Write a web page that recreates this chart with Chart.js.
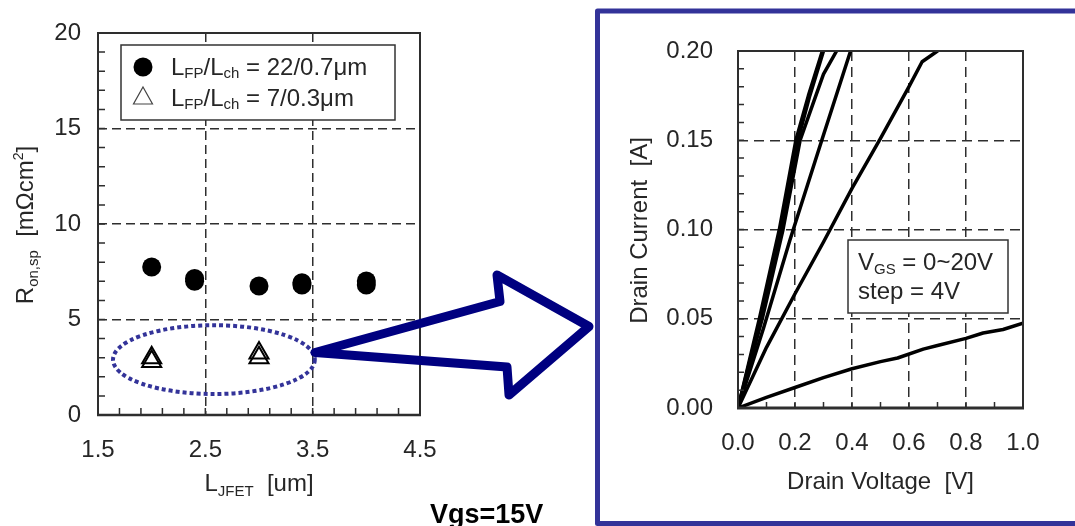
<!DOCTYPE html>
<html>
<head>
<meta charset="utf-8">
<title>Ron,sp vs L_JFET and Id-Vd</title>
<script src="https://cdn.jsdelivr.net/npm/chart.js@4.4.1/dist/chart.umd.min.js"></script>
<style>
  html, body { margin: 0; padding: 0; background: #fff; }
  #page { position: relative; width: 1075px; height: 526px; overflow: hidden; }
  #page canvas { position: absolute; left: 0; top: 0; }
</style>
</head>
<body>
<div id="page">
  <canvas id="ronChart" width="1075" height="526"></canvas>
  <canvas id="ivChart" width="1075" height="526"></canvas>
</div>
<script>
// Left panel: specific on-resistance vs JFET length
const ljfetTicks = [1.5, 2.5, 3.5, 4.5];
const ronTicks = [0, 5, 10, 15, 20];
const lfp22X = [2.0, 2.4, 2.4, 3.0, 3.4, 3.4, 4.0, 4.0];
const lfp22Ron = [7.75, 7.0, 7.15, 6.75, 6.8, 6.92, 6.8, 7.02];
const lfp7X = [2.0, 2.0, 3.0, 3.0];
const lfp7Ron = [2.8, 3.0, 3.0, 3.25];

// Right panel: drain current vs drain voltage (Vgs = 0~20V, step 4V)
const vdTicks = [0, 0.2, 0.4, 0.6, 0.8, 1.0];
const idTicks = [0, 0.05, 0.10, 0.15, 0.20];
const vd1 = [0, 0.1, 0.2, 0.3, 0.4, 0.5, 0.56, 0.65, 0.7, 0.8, 0.86, 0.93, 1.0];
const id1 = [0, 0.006, 0.0115, 0.017, 0.022, 0.026, 0.028, 0.033, 0.035, 0.039, 0.042, 0.044, 0.0475];
const vd2 = [0, 0.1, 0.2, 0.3, 0.4, 0.5, 0.6, 0.646, 0.70];
const id2 = [0, 0.034, 0.064, 0.093, 0.123, 0.151, 0.18, 0.194, 0.20];
const vd3 = [0, 0.09, 0.182, 0.294, 0.395];
const id3 = [0, 0.045, 0.094, 0.15, 0.20];
const vd4 = [0, 0.085, 0.158, 0.218, 0.262, 0.30, 0.346];
const id4 = [0, 0.05, 0.10, 0.15, 0.17, 0.187, 0.20];
const vd5 = [0, 0.079, 0.152, 0.21, 0.252, 0.30];
const id5 = [0, 0.05, 0.10, 0.15, 0.175, 0.20];
const vd6 = [0, 0.075, 0.145, 0.203, 0.247, 0.296];
const id6 = [0, 0.05, 0.10, 0.15, 0.175, 0.20];

const FONT = "'Liberation Sans', Arial, Helvetica, sans-serif";
const TXT = '#262626';
const LINE = '#2e2e2e';
const NAVY = '#000080';
const FRAME = '#333399';

Chart.defaults.font.family = FONT;

function range(a, b, step) {
    const out = [];
    for (let v = a; v <= b + 1e-9; v += step) out.push(Math.round(v * 1000) / 1000);
    return out;
}

function toPoints(xs, ys) {
    return xs.map((x, i) => ({ x: x, y: ys[i] }));
}

// rich text: parts = [[text, size, dy], ...]
function richWidth(ctx, parts) {
    let w = 0;
    parts.forEach(p => {
        ctx.font = p[1] + 'px ' + FONT;
        w += ctx.measureText(p[0]).width;
    });
    return w;
}

function drawRich(ctx, parts, x, y) {
    let cx = x;
    parts.forEach(p => {
        ctx.font = p[1] + 'px ' + FONT;
        ctx.fillText(p[0], cx, y + (p[2] || 0));
        cx += ctx.measureText(p[0]).width;
    });
}

function edgeTransparent(ctx) {
    const t = ctx.tick;
    if (!t) return LINE;
    const s = ctx.scale;
    if (Math.abs(t.value - s.min) < 1e-9 || Math.abs(t.value - s.max) < 1e-9) return 'rgba(0,0,0,0)';
    return LINE;
}

// box, inner minor ticks, axis titles and text legend of each panel
const panelDecor = {
    id: 'panelDecor',
    afterDraw(chart, args, o) {
        const { ctx, chartArea: a } = chart;
        const x = chart.scales.x, y = chart.scales.y;
        ctx.save();
        ctx.strokeStyle = LINE;
        ctx.lineWidth = 1.5;
        ctx.beginPath();
        o.minorY.forEach(v => {
            const py = y.getPixelForValue(v);
            ctx.moveTo(a.left, py);
            ctx.lineTo(a.left + o.tickLen, py);
        });
        o.minorX.forEach(v => {
            const px = x.getPixelForValue(v);
            ctx.moveTo(px, a.bottom);
            ctx.lineTo(px, a.bottom - o.tickLen);
        });
        ctx.stroke();

        ctx.lineWidth = 2;
        ctx.strokeRect(a.left, a.top, a.width, a.height);
        ctx.lineWidth = o.bottomWidth;
        ctx.beginPath();
        ctx.moveTo(a.left - 1, a.bottom);
        ctx.lineTo(a.right + 1, a.bottom);
        ctx.stroke();

        // axis titles
        ctx.fillStyle = TXT;
        ctx.textBaseline = 'alphabetic';
        const xw = richWidth(ctx, o.xTitle);
        drawRich(ctx, o.xTitle, (a.left + a.right) / 2 - xw / 2, o.xTitleY);
        const yw = richWidth(ctx, o.yTitle);
        ctx.save();
        ctx.translate(o.yTitleX, (a.top + a.bottom) / 2 + o.yTitleShift);
        ctx.rotate(-Math.PI / 2);
        drawRich(ctx, o.yTitle, -yw / 2, 0);
        ctx.restore();

        // legend box (white filled, covers the grid)
        const L = o.legend;
        ctx.fillStyle = '#fff';
        ctx.fillRect(L.box[0], L.box[1], L.box[2], L.box[3]);
        ctx.lineWidth = 1.5;
        ctx.strokeStyle = '#333';
        ctx.strokeRect(L.box[0], L.box[1], L.box[2], L.box[3]);
        ctx.fillStyle = TXT;
        L.rows.forEach(r => {
            drawRich(ctx, r.parts, r.x, r.y);
            if (r.marker === 'circle') {
                ctx.beginPath();
                ctx.fillStyle = '#000';
                ctx.arc(r.mx, r.my, 9.5, 0, Math.PI * 2);
                ctx.fill();
                ctx.fillStyle = TXT;
            } else if (r.marker === 'triangle') {
                ctx.beginPath();
                ctx.strokeStyle = '#444';
                ctx.lineWidth = 1.2;
                ctx.moveTo(r.mx, r.my - 10);
                ctx.lineTo(r.mx + 9.5, r.my + 7);
                ctx.lineTo(r.mx - 9.5, r.my + 7);
                ctx.closePath();
                ctx.stroke();
            }
        });
        ctx.restore();
    }
};

// dotted ellipse around the 7/0.3um points, the big arrow, the frame and the Vgs label
const callout = {
    id: 'callout',
    afterDraw(chart) {
        const { ctx } = chart;
        const x = chart.scales.x, y = chart.scales.y;
        const cx = x.getPixelForValue(2.58), cy = y.getPixelForValue(2.9);
        const rx = x.getPixelForValue(3.52) - cx, ry = y.getPixelForValue(1.1) - cy;
        ctx.save();
        ctx.strokeStyle = FRAME;
        ctx.lineWidth = 4;
        ctx.setLineDash([4, 3]);
        ctx.beginPath();
        ctx.ellipse(cx, cy, rx, ry, 0, 0, Math.PI * 2);
        ctx.stroke();
        ctx.setLineDash([]);

        ctx.strokeStyle = NAVY;
        ctx.lineWidth = 9;
        ctx.lineJoin = 'round';
        ctx.beginPath();
        ctx.moveTo(315, 352.5);
        ctx.lineTo(500, 301.5);
        ctx.lineTo(497, 275);
        ctx.lineTo(589, 326.5);
        ctx.lineTo(509, 395);
        ctx.lineTo(507, 367);
        ctx.closePath();
        ctx.stroke();

        ctx.strokeStyle = FRAME;
        ctx.lineWidth = 5;
        ctx.strokeRect(597.5, 11, 600, 512.5);

        ctx.fillStyle = '#000';
        ctx.font = 'bold 27px ' + FONT;
        ctx.fillText('Vgs=15V', 430, 523);
        ctx.restore();
    }
};

function axis(min, max, tickVals, fmt, fit, pad, dash) {
    return {
        type: 'linear',
        min: min,
        max: max,
        afterBuildTicks: s => { s.ticks = tickVals.map(v => ({ value: v })); },
        afterFit: fit,
        grid: { drawTicks: false, color: edgeTransparent, lineWidth: 1.5 },
        border: { display: false, dash: dash },
        ticks: {
            padding: pad,
            color: TXT,
            font: { size: 24 },
            autoSkip: false,
            maxRotation: 0,
            callback: v => fmt(v)
        }
    };
}

function initializeRonChart() {
    const ctx = document.getElementById('ronChart').getContext('2d');
    new Chart(ctx, {
        type: 'scatter',
        data: {
            datasets: [
                {
                    label: 'LFP/Lch = 22/0.7um',
                    data: toPoints(lfp22X, lfp22Ron),
                    pointStyle: 'circle',
                    pointRadius: 9.5,
                    backgroundColor: '#000',
                    borderWidth: 0
                },
                {
                    label: 'LFP/Lch = 7/0.3um',
                    data: toPoints(lfp7X, lfp7Ron),
                    pointStyle: 'triangle',
                    pointRadius: 11,
                    backgroundColor: 'rgba(0,0,0,0)',
                    borderColor: '#000',
                    borderWidth: 2
                }
            ]
        },
        options: {
            responsive: false,
            animation: false,
            events: [],
            devicePixelRatio: 1,
            layout: { padding: { left: 0, top: 33, right: 655, bottom: 51 } },
            scales: {
                x: axis(1.5, 4.5, ljfetTicks, v => v.toFixed(1), s => { s.height = 60; }, 21, [9, 5]),
                y: axis(0, 20, ronTicks, v => String(v), s => { s.width = 98; }, 17, [9, 5])
            },
            plugins: {
                legend: { display: false },
                tooltip: { enabled: false },
                panelDecor: {
                    minorX: range(1.7, 4.3, 0.2),
                    minorY: range(1, 19, 1),
                    tickLen: 7,
                    bottomWidth: 2.5,
                    xTitle: [['L', 24], ['JFET', 15, 5], ['  [um]', 24]],
                    xTitleY: 491,
                    yTitle: [['R', 24], ['on,sp', 15, 5], ['  [m\u03A9cm', 24], ['2', 14, -10], [']', 24]],
                    yTitleX: 33,
                    yTitleShift: 1,
                    legend: {
                        box: [121, 45, 274, 75],
                        rows: [
                            { marker: 'circle', mx: 143, my: 67, x: 171, y: 75,
                              parts: [['L', 24], ['FP', 15, 3], ['/L', 24], ['ch', 15, 3], [' = 22/0.7\u03BCm', 24]] },
                            { marker: 'triangle', mx: 143, my: 97, x: 171, y: 106,
                              parts: [['L', 24], ['FP', 15, 3], ['/L', 24], ['ch', 15, 3], [' = 7/0.3\u03BCm', 24]] }
                        ]
                    }
                }
            }
        },
        plugins: [panelDecor, callout]
    });
}

function initializeIvChart() {
    const ctx = document.getElementById('ivChart').getContext('2d');
    const curves = [[vd1, id1], [vd2, id2], [vd3, id3], [vd4, id4], [vd5, id5], [vd6, id6]];
    new Chart(ctx, {
        type: 'scatter',
        data: {
            datasets: curves.map((c, i) => ({
                label: 'Vgs ' + (i * 4) + 'V',
                data: toPoints(c[0], c[1]),
                showLine: true,
                borderColor: '#000',
                borderWidth: 3.5,
                borderJoinStyle: 'round',
                borderCapStyle: 'round',
                pointRadius: 0,
                tension: 0
            }))
        },
        options: {
            responsive: false,
            animation: false,
            events: [],
            devicePixelRatio: 1,
            layout: { padding: { left: 648, top: 51, right: 52, bottom: 58 } },
            scales: {
                x: axis(0, 1.0, vdTicks, v => v.toFixed(1), s => { s.height = 60; }, 21, [10, 6]),
                y: axis(0, 0.2, idTicks, v => v.toFixed(2), s => { s.width = 90; }, 25, [10, 6])
            },
            plugins: {
                legend: { display: false },
                tooltip: { enabled: false },
                panelDecor: {
                    minorX: range(0.1, 0.9, 0.1),
                    minorY: range(0.01, 0.19, 0.01),
                    tickLen: 6,
                    bottomWidth: 3,
                    xTitle: [['Drain Voltage  [V]', 24]],
                    xTitleY: 489,
                    yTitle: [['Drain Current  [A]', 24]],
                    yTitleX: 647,
                    yTitleShift: 1,
                    legend: {
                        box: [848, 240, 160, 73],
                        rows: [
                            { x: 858, y: 270, parts: [['V', 24], ['GS', 15, 4], [' = 0~20V', 24]] },
                            { x: 858, y: 299, parts: [['step = 4V', 24]] }
                        ]
                    }
                }
            }
        },
        plugins: [panelDecor]
    });
}

document.addEventListener('DOMContentLoaded', () => {
    initializeRonChart();
    initializeIvChart();
});
</script>
</body>
</html>
